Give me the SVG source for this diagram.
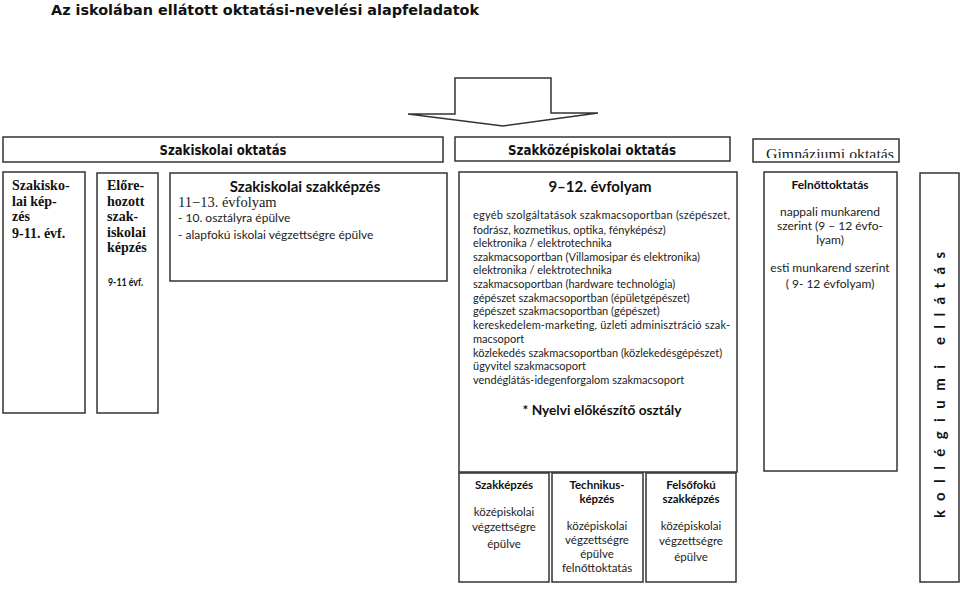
<svg xmlns="http://www.w3.org/2000/svg" width="960" height="592" viewBox="0 0 960 592">
<style>
.box{fill:#fff;stroke:#333;stroke-width:1.5}
.vb{font-family:"DejaVu Sans",Verdana,sans-serif;font-weight:bold;fill:#111}
.gs{font-family:Lato,"Open Sans",sans-serif;fill:#222}
.gsb{font-family:Lato,"Open Sans",sans-serif;font-weight:bold;fill:#111}
.sr{font-family:"Liberation Serif","Times New Roman",serif;fill:#222}
.srb{font-family:"Liberation Serif","Times New Roman",serif;font-weight:bold;fill:#111}
.c{text-anchor:middle}
</style>
<defs>
<clipPath id="gclip"><rect x="753" y="139" width="146" height="19"/></clipPath>
</defs>
<rect width="960" height="592" fill="#fff"/>
<text class="vb" x="51" y="15" font-size="13.5" textLength="428" lengthAdjust="spacingAndGlyphs">Az iskolában ellátott oktatási-nevelési alapfeladatok</text>

<g id="connectors">
<polygon class="box" points="408,114 455,114 455,78 551,78 551,113 598,113 503,126"/>
</g>

<g id="szakiskolai-oktatas">
<rect class="box" x="3" y="137" width="440" height="25"/>
<text class="vb c" x="223" y="155" font-size="13.5" textLength="127" lengthAdjust="spacingAndGlyphs">Szakiskolai oktatás</text>
</g>
<g id="szakkozep-oktatas">
<rect class="box" x="455" y="137" width="275" height="24"/>
<text class="vb c" x="592" y="155" font-size="13.5" textLength="168" lengthAdjust="spacingAndGlyphs">Szakközépiskolai oktatás</text>
</g>
<g id="gimnaziumi-oktatas">
<rect class="box" x="753" y="139" width="146" height="23"/>
<text class="sr c" x="830" y="159" font-size="15" fill="#444" textLength="128" lengthAdjust="spacingAndGlyphs" clip-path="url(#gclip)">Gimnáziumi oktatás</text>
</g>

<g id="szakiskolai-kepzes">
<rect class="box" x="3" y="172" width="82" height="241"/>
<text class="srb" font-size="14"><tspan x="12" y="190">Szakisko-</tspan><tspan x="12" y="206">lai kép-</tspan><tspan x="12" y="221">zés</tspan><tspan x="12" y="238">9-11. évf.</tspan></text>
</g>
<g id="elorehozott">
<rect class="box" x="97" y="173" width="61" height="240"/>
<text class="srb" font-size="14"><tspan x="107" y="190">Előre-</tspan><tspan x="107" y="206">hozott</tspan><tspan x="107" y="221">szak-</tspan><tspan x="107" y="237">iskolai</tspan><tspan x="107" y="252">képzés</tspan></text>
<text class="gsb" x="108" y="286" font-size="11" textLength="35" lengthAdjust="spacingAndGlyphs">9-11 évf.</text>
</g>
<g id="szakiskolai-szakkepzes">
<rect class="box" x="170" y="173" width="277" height="108"/>
<text class="gsb c" x="305" y="192" font-size="15">Szakiskolai szakképzés</text>
<text class="sr" x="178" y="207" font-size="14.5" fill="#444">11−13. évfolyam</text>
<text class="gs" x="178" y="222" font-size="12">- 10. osztályra épülve</text>
<text class="gs" x="178" y="239" font-size="12">- alapfokú iskolai végzettségre épülve</text>
</g>

<g id="evfolyam-9-12">
<rect class="box" x="459" y="172" width="278" height="300"/>
<text class="gsb c" x="600" y="192" font-size="15">9–12. évfolyam</text>
<text class="gs" font-size="11">
<tspan x="473" y="219" textLength="257" lengthAdjust="spacing">egyéb szolgáltatások szakmacsoportban (szépészet,</tspan>
<tspan x="473" y="234">fodrász, kozmetikus, optika, fényképész)</tspan>
<tspan x="473" y="247">elektronika / elektrotechnika</tspan>
<tspan x="473" y="261">szakmacsoportban (Villamosipar és elektronika)</tspan>
<tspan x="473" y="274">elektronika / elektrotechnika</tspan>
<tspan x="473" y="288">szakmacsoportban (hardware technológia)</tspan>
<tspan x="473" y="302">gépészet szakmacsoportban (épületgépészet)</tspan>
<tspan x="473" y="315">gépészet szakmacsoportban (gépészet)</tspan>
<tspan x="473" y="329" textLength="257" lengthAdjust="spacing">kereskedelem-marketing, üzleti adminisztráció szak-</tspan>
<tspan x="473" y="343">macsoport</tspan>
<tspan x="473" y="357">közlekedés szakmacsoportban (közlekedésgépészet)</tspan>
<tspan x="473" y="370">ügyvitel szakmacsoport</tspan>
<tspan x="473" y="384">vendéglátás-idegenforgalom szakmacsoport</tspan>
</text>
<text class="gsb c" x="602" y="415" font-size="13" textLength="159" lengthAdjust="spacingAndGlyphs">* Nyelvi előkészítő osztály</text>
</g>

<g id="szakkepzes">
<rect class="box" x="459" y="473" width="90" height="109"/>
<text class="gs c" font-size="11.5"><tspan class="gsb" x="504" y="489">Szakképzés</tspan><tspan x="504" y="516">középiskolai</tspan><tspan x="504" y="531">végzettségre</tspan><tspan x="504" y="548">épülve</tspan></text>
</g>
<g id="technikuskepzes">
<rect class="box" x="552" y="473" width="91" height="109"/>
<text class="gs c" font-size="11.5"><tspan class="gsb" x="597" y="489">Technikus-</tspan><tspan class="gsb" x="597" y="503">képzés</tspan><tspan x="597" y="530">középiskolai</tspan><tspan x="597" y="544">végzettségre</tspan><tspan x="597" y="558">épülve</tspan><tspan x="597" y="572">felnőttoktatás</tspan></text>
</g>
<g id="felsofoku">
<rect class="box" x="646" y="473" width="90" height="109"/>
<text class="gs c" font-size="11.5"><tspan class="gsb" x="691" y="489">Felsőfokú</tspan><tspan class="gsb" x="691" y="503">szakképzés</tspan><tspan x="691" y="530">középiskolai</tspan><tspan x="691" y="545">végzettségre</tspan><tspan x="691" y="561">épülve</tspan></text>
</g>

<g id="felnottoktatas">
<rect class="box" x="764" y="172" width="133" height="299"/>
<text class="gs c" font-size="12"><tspan class="gsb" x="830" y="189">Felnőttoktatás</tspan><tspan x="830" y="216">nappali munkarend</tspan><tspan x="830" y="230">szerint (9 – 12 évfo-</tspan><tspan x="830" y="244">lyam)</tspan><tspan x="830" y="272">esti munkarend szerint</tspan><tspan x="830" y="288">( 9- 12 évfolyam)</tspan></text>
</g>

<g id="kollegiumi">
<rect class="box" x="920" y="173" width="39" height="409"/>
<text class="gsb" transform="translate(945,518) rotate(-90)" font-size="15" textLength="153" lengthAdjust="spacing">kollégiumi</text>
<text class="gsb" transform="translate(945,345) rotate(-90)" font-size="15" textLength="93" lengthAdjust="spacing">ellátás</text>
</g>
</svg>
